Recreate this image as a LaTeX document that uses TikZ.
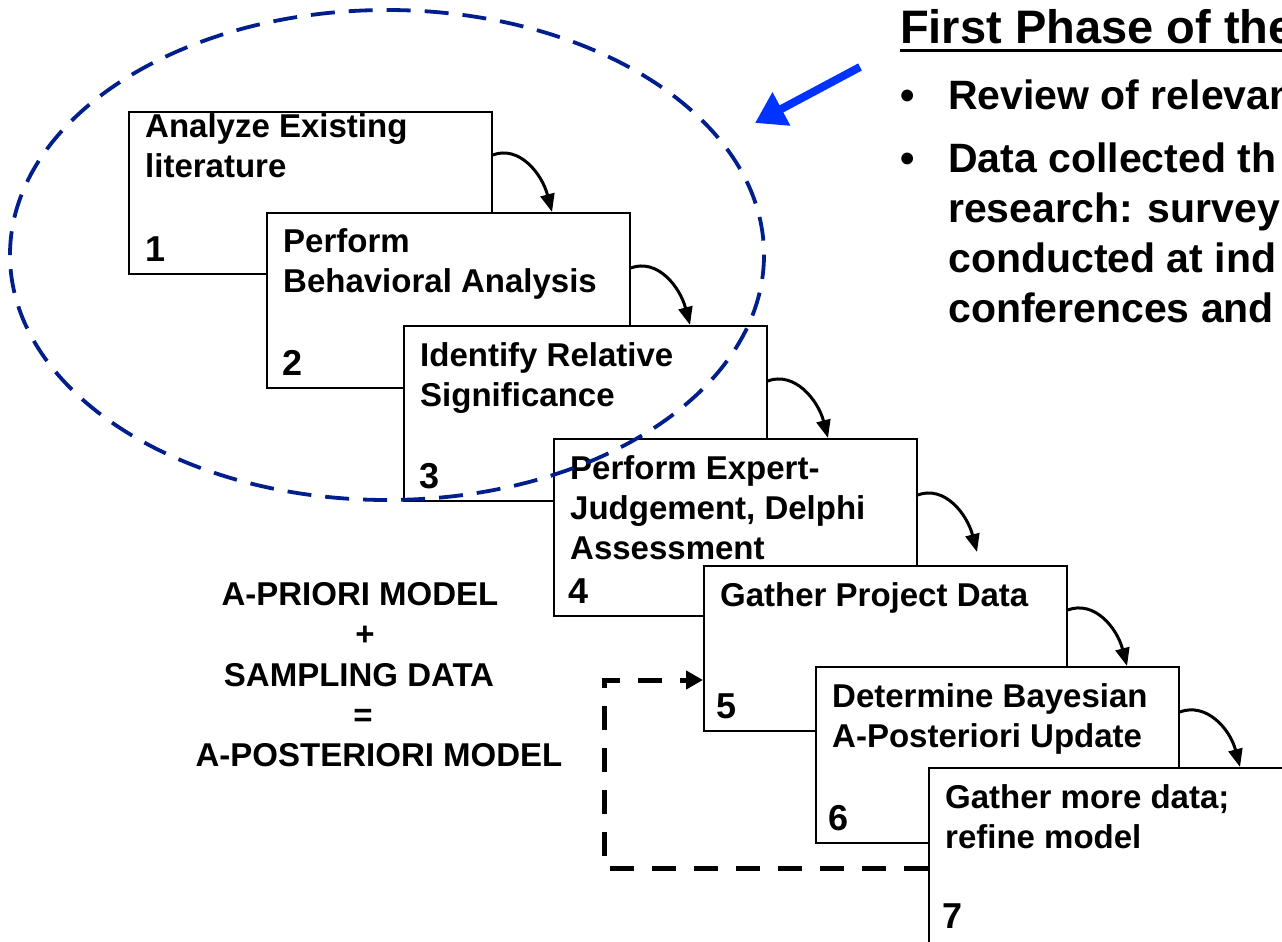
\documentclass[tikz,border=0pt]{standalone}
\usepackage{fontspec}
\setmainfont{Liberation Sans}
\usetikzlibrary{arrows.meta}
\definecolor{ellblue}{RGB}{0,30,140}
\definecolor{arrblue}{RGB}{0,51,255}
\begin{document}
\begin{tikzpicture}[x=1pt,y=-1pt,
  stepbox/.style={draw, line width=1.6pt, fill=white, anchor=north west, inner sep=0pt, minimum width=363pt},
  boxtext/.style={anchor=base west, inner sep=0pt, align=left, font=\fontsize{33}{40}\selectfont\bfseries},
  numtext/.style={anchor=base west, inner sep=0pt, font=\fontsize{36}{40}\selectfont\bfseries},
  sidetext/.style={anchor=base, inner sep=0pt, font=\fontsize{33}{40}\selectfont\bfseries},
  bullettext/.style={anchor=base west, inner sep=0pt, align=left, font=\fontsize{41}{50}\selectfont\bfseries},
  flow/.style={line width=3pt, -{Triangle[length=18pt,width=14pt]}},
  feedback/.style={line width=5pt, dash pattern=on 24pt off 18pt, -{Triangle[length=17pt,width=18pt]}}]
\clip (0,0) rectangle (1282,942);
\fill[white] (0,0) rectangle (1282,942);

% boxes (multi-line texts are placed at the baseline of their last line)
\node[stepbox, minimum height=162pt] (b1) at (128,111) {};
\node[boxtext] (t1) at (145,177) {Analyze Existing\\literature};
\node[numtext] (n1) at (145,261) {1};

\node[stepbox, minimum height=175pt] (b2) at (266,212) {};
\node[boxtext] (t2) at (283,292) {Perform\\Behavioral Analysis};
\node[numtext] (n2) at (282,375) {2};

\node[stepbox, minimum height=175pt] (b3) at (403,325) {};
\node[boxtext] (t3) at (420,406) {Identify Relative\\Significance};
\node[numtext] (n3) at (419,488) {3};

\node[stepbox, minimum height=177pt] (b4) at (553,438) {};
\node[boxtext] (t4) at (570,559) {Perform Expert-\\Judgement, Delphi\\Assessment};
\node[numtext] (n4) at (568,603) {4};

\node[stepbox, minimum height=165pt] (b5) at (703,565) {};
\node[boxtext] (t5) at (720,606) {Gather Project Data};
\node[numtext] (n5) at (716,718) {5};

\node[stepbox, minimum height=176pt] (b6) at (815,666) {};
\node[boxtext] (t6) at (832,747) {Determine Bayesian\\A-Posteriori Update};
\node[numtext] (n6) at (828,830) {6};

\node[stepbox, minimum height=200pt, minimum width=380pt] (b7) at (928,767) {};
\node[boxtext] (t7) at (945,848) {Gather more data;\\refine model};
\node[numtext] (n7) at (942,928) {7};

% curved flow arrows
\draw[flow] ([yshift=-44pt]b1.north east) .. controls +(27,-10) and +(-10,-38) .. ([xshift=286pt]b2.north west);
\draw[flow] ([yshift=-56pt]b2.north east) .. controls +(27,-10) and +(-10,-38) .. ([xshift=287pt]b3.north west);
\draw[flow] ([yshift=-56pt]b3.north east) .. controls +(27,-10) and +(-10,-38) .. ([xshift=275pt]b4.north west);
\draw[flow] ([yshift=-57pt]b4.north east) .. controls +(27,-10) and +(-10,-38) .. ([xshift=274pt,yshift=13pt]b5.north west);
\draw[flow] ([yshift=-45pt]b5.north east) .. controls +(27,-10) and +(-10,-38) .. ([xshift=312pt]b6.north west);
\draw[flow] ([yshift=-46pt]b6.north east) .. controls +(27,-10) and +(-10,-38) .. ([xshift=312pt]b7.north west);

% feedback loop
\coordinate (fa) at (604,868);
\coordinate (fb) at (604,680);
\draw[feedback] ([yshift=-101pt]b7.north west) -- (fa) -- (fb) -- ([yshift=-115pt]b5.north west);

% side text
\node[sidetext] (s1) at (360,605) {A-PRIORI MODEL};
\node[sidetext] (s2) at (365,645) {+};
\node[sidetext] (s3) at (359,686) {SAMPLING DATA};
\node[sidetext] (s4) at (363,726) {=};
\node[sidetext] (s5) at (379,766) {A-POSTERIORI MODEL};

% ellipse
\draw[ellblue, line width=3.8pt, dash pattern=on 24pt off 14pt] (387,255) ellipse [x radius=377, y radius=245];

% title & bullets
\node[anchor=base west, inner sep=0pt, font=\fontsize{47}{54}\selectfont\bfseries] (title) at (900,44) {First Phase of the};
\draw[line width=3pt] ([yshift=-7pt]title.base west) -- ++(400,0);
\node[bullettext] (bu1) at (900,110) {•};
\node[bullettext] (r1) at (948,110) {Review of relevant};
\node[bullettext] (bu2) at (900,172) {•};
\node[bullettext] (r2) at (948,322) {Data collected th\\research: survey\\conducted at ind\\conferences and};

% blue arrow
\coordinate (bs) at (860,67);
\coordinate (bt) at (755,123);
\draw[arrblue, line width=8pt, -{Triangle[length=30pt,width=36pt]}] (bs) -- (bt);
\end{tikzpicture}
\end{document}
